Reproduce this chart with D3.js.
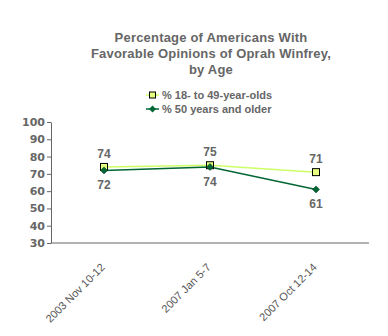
<!DOCTYPE html>
<html>
<head>
<meta charset="utf-8">
<script src="https://cdn.jsdelivr.net/npm/d3@7"></script>
<style>
  body { margin: 0; background: #fff; }
  svg { display: block; font-family: Arial, "Liberation Sans", sans-serif; }
</style>
</head>
<body>
<div id="chart"></div>
<script>
// data
const categories = ["2003 Nov 10-12", "2007 Jan 5-7", "2007 Oct 12-14"];
const young = [74, 75, 71];   // % 18- to 49-year-olds
const older = [72, 74, 61];   // % 50 years and older
const yTicks = [30, 40, 50, 60, 70, 80, 90, 100];

const width = 388, height = 336;
const margin = {top: 122, right: 19, bottom: 93, left: 51};

const svg = d3.select("#chart").append("svg")
  .attr("width", width)
  .attr("height", height);

// title
const title = ["Percentage of Americans With", "Favorable Opinions of Oprah Winfrey,", "by Age"];
svg.append("text")
  .attr("x", 211).attr("y", 42)
  .attr("text-anchor", "middle")
  .attr("font-size", 13).attr("font-weight", "bold").attr("fill", "#666")
  .attr("letter-spacing", 0.2)
  .selectAll("tspan").data(title).enter().append("tspan")
    .attr("x", 211).attr("dy", (d, i) => i ? 16 : 0)
    .text(d => d);

const x = d3.scalePoint()
  .domain(categories)
  .range([margin.left, width - margin.right])
  .padding(0.5);

const y = d3.scaleLinear()
  .domain([30, 100])
  .range([height - margin.bottom, margin.top]);

// axes
const yAxis = svg.append("g")
  .attr("transform", "translate(" + margin.left + ",0)")
  .call(d3.axisLeft(y).tickValues(yTicks).tickSize(4).tickSizeOuter(0));
yAxis.select(".domain").attr("stroke", "#666");
yAxis.selectAll(".tick line").attr("stroke", "#666");
yAxis.selectAll("text")
  .attr("font-size", 11).attr("font-weight", "bold").attr("fill", "#666")
  .attr("font-family", "Verdana, 'DejaVu Sans', sans-serif")
  .attr("x", -6);

const xAxis = svg.append("g")
  .attr("transform", "translate(0," + (height - margin.bottom) + ")")
  .call(d3.axisBottom(x).tickSize(0).tickSizeOuter(0));
xAxis.select(".domain")
  .attr("d", "M" + margin.left + ",0H" + (width - margin.right))
  .attr("stroke", "#666");
xAxis.selectAll("text")
  .attr("font-size", 11).attr("fill", "#555")
  .style("text-anchor", "end")
  .attr("x", 0).attr("y", 0).attr("dy", 0)
  .attr("transform", "translate(1,25) rotate(-45)");

// lines
const line = vals => d3.line()
  .x((d, i) => x(categories[i]))
  .y(d => y(d))(vals);

svg.append("path").attr("d", line(young))
  .attr("fill", "none").attr("stroke", "#CCFF66").attr("stroke-width", 1.5);
svg.append("path").attr("d", line(older))
  .attr("fill", "none").attr("stroke", "#006633").attr("stroke-width", 1.5);

// markers
svg.selectAll(".sq").data(young).enter().append("rect")
  .attr("x", (d, i) => x(categories[i]) - 3.5)
  .attr("y", d => y(d) - 3.5)
  .attr("width", 7).attr("height", 7)
  .attr("fill", "#E6FF80").attr("stroke", "#000").attr("stroke-width", 1);

const diamond = "M0,-3.5L3.5,0L0,3.5L-3.5,0Z";
svg.selectAll(".dm").data(older).enter().append("path")
  .attr("d", diamond)
  .attr("transform", (d, i) => "translate(" + x(categories[i]) + "," + y(d) + ")")
  .attr("fill", "#006633").attr("stroke", "#003311").attr("stroke-width", 0.5);

// data labels
svg.selectAll(".ly").data(young).enter().append("text")
  .attr("x", (d, i) => x(categories[i]))
  .attr("y", d => y(d) - 9)
  .attr("text-anchor", "middle")
  .attr("font-size", 12).attr("font-weight", "bold").attr("fill", "#666")
  .text(d => d);
svg.selectAll(".lo").data(older).enter().append("text")
  .attr("x", (d, i) => x(categories[i]))
  .attr("y", d => y(d) + 19)
  .attr("text-anchor", "middle")
  .attr("font-size", 12).attr("font-weight", "bold").attr("fill", "#666")
  .text(d => d);

// legend
const legend = svg.append("g").attr("transform", "translate(146,0)");
const ly1 = 95, ly2 = 109;
legend.append("line").attr("x1", 0).attr("x2", 13).attr("y1", ly1).attr("y2", ly1)
  .attr("stroke", "#CCFF66").attr("stroke-width", 1.5);
legend.append("rect").attr("x", 3.5).attr("y", ly1 - 3).attr("width", 6).attr("height", 6)
  .attr("fill", "#E6FF80").attr("stroke", "#000");
legend.append("line").attr("x1", 0).attr("x2", 13).attr("y1", ly2).attr("y2", ly2)
  .attr("stroke", "#006633").attr("stroke-width", 1.5);
legend.append("path").attr("d", diamond)
  .attr("transform", "translate(6.5," + ly2 + ")").attr("fill", "#006633");
legend.append("text").attr("x", 16).attr("y", ly1 + 4)
  .attr("font-size", 11).attr("font-weight", "bold").attr("fill", "#666")
  .text("% 18- to 49-year-olds");
legend.append("text").attr("x", 16).attr("y", ly2 + 4)
  .attr("font-size", 11).attr("font-weight", "bold").attr("fill", "#666")
  .text("% 50 years and older");
</script>
</body>
</html>
